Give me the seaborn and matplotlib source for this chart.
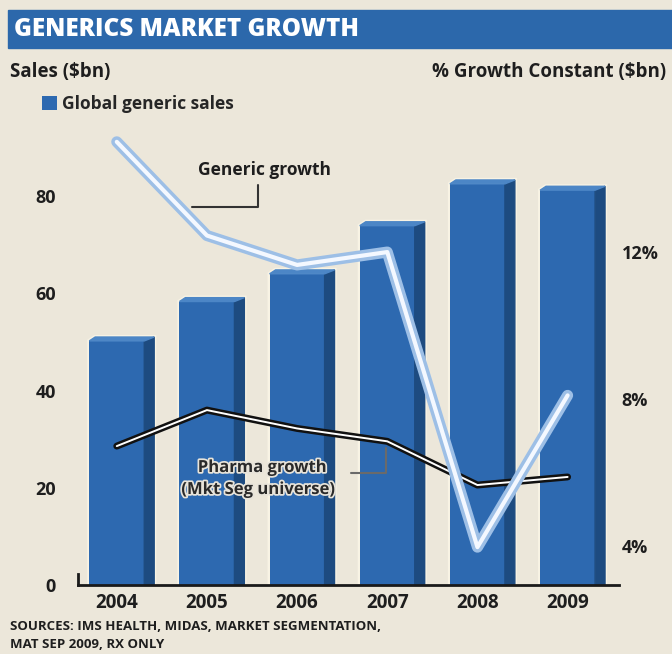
import numpy as np
import pandas as pd
import matplotlib
matplotlib.use("Agg")
import matplotlib.pyplot as plt
import matplotlib.patheffects as pe
from matplotlib.patches import Polygon, Patch, Rectangle
import seaborn as sns

years = ["2004", "2005", "2006", "2007", "2008", "2009"]
sales = [50.2, 58.3, 64.0, 73.9, 82.5, 81.2]
generic_growth = [15.0, 12.45, 11.65, 12.0, 3.97, 8.1]
pharma_growth = [6.72, 7.7, 7.2, 6.85, 5.66, 5.88]
left_ticks = [0, 20, 40, 60, 80]
right_ticks = [4, 8, 12]
right_labels = ["4%", "8%", "12%"]

BG = "#ece7da"
BLUE = "#2d69b0"
SIDE = "#1d4b80"
TOP = "#4c86c6"
BANNER = "#2c68ab"
TXT = "#1e1e1e"
FONT = "Open Sans"

sns.set_theme(style="white")
plt.rcParams["font.family"] = [FONT, "DejaVu Sans"]

W, H = 672, 654
fig = plt.figure(figsize=(W / 100, H / 100), dpi=100, facecolor=BG)

def fx(px):
    return px / W

def fy(py):
    return 1 - py / H

# banner
fig.patches.append(Rectangle((fx(8), fy(48)), 1 - fx(8), (48 - 10) / H,
                             transform=fig.transFigure, color=BANNER, zorder=0))
fig.text(fx(14), fy(30), "GENERICS MARKET GROWTH", color="white",
         fontsize=17.5, fontweight="heavy", va="center", ha="left")
fig.text(fx(10), fy(72), "Sales ($bn)", color=TXT, fontsize=13.5,
         fontweight="bold", va="center", ha="left")
fig.text(fx(666), fy(72), "% Growth Constant ($bn)", color=TXT, fontsize=13.5,
         fontweight="bold", va="center", ha="right")

left, right, top, bottom = 78, 619, 115, 585
ax = fig.add_axes([fx(left), fy(bottom), (right - left) / W, (bottom - top) / H])
ax.set_facecolor(BG)

df = pd.DataFrame({"year": years, "sales": sales})
sns.barplot(data=df, x="year", y="sales", ax=ax, color=BLUE, width=0.61,
            saturation=1, edgecolor="none", zorder=2)
ax.set_xlim(-0.43, 5.57)
ax.set_ylim(0, 96.66)

# 3D side and top faces derived from bar geometry
d = 0.11
e = 0.8
for p in list(ax.patches):
    x0 = p.get_x()
    w = p.get_width()
    h = p.get_height()
    x1 = x0 + w
    ax.add_patch(Polygon([(x1, 0), (x1 + d, 0), (x1 + d, h + e), (x1, h)],
                         closed=True, color=SIDE, zorder=2))
    ax.add_patch(Polygon([(x0, h), (x1, h), (x1 + d, h + e), (x0 + d * 0.6, h + e)],
                         closed=True, color=TOP, zorder=2))
    # cream glow around bars
    ax.add_patch(Polygon([(x0, 0), (x0, h), (x0 + d * 0.6, h + e), (x1 + d, h + e), (x1 + d, 0)],
                         closed=True, fill=False, edgecolor="#f8f3e4", lw=3, zorder=1.9))

ax.set_yticks(left_ticks)
ax.set_yticklabels([str(t) for t in left_ticks])
ax.tick_params(axis="y", length=0, pad=16, labelsize=13, labelcolor=TXT)
for t in ax.get_yticklabels():
    t.set_fontweight("bold")
ax.tick_params(axis="x", length=0, pad=6, labelsize=13.5, labelcolor=TXT)
for t in ax.get_xticklabels():
    t.set_fontweight("bold")
ax.set_xlabel("")
ax.set_ylabel("")
for s in ["top", "right"]:
    ax.spines[s].set_visible(False)
ax.spines["bottom"].set_color("#1a1a1a")
ax.spines["bottom"].set_linewidth(2)
ax.spines["left"].set_color("#1a1a1a")
ax.spines["left"].set_linewidth(2)
ax.spines["left"].set_bounds(0, 2.2)

# right axis with growth lines
ax2 = ax.twinx()
ax2.set_ylim(2.94, 15.73)
ax2.set_xlim(-0.43, 5.57)
xs = np.arange(len(years))
gdf = pd.DataFrame({"x": xs, "generic": generic_growth, "pharma": pharma_growth})
sns.lineplot(data=gdf, x="x", y="pharma", ax=ax2, color="#111111", lw=5,
             zorder=3, solid_capstyle="round", solid_joinstyle="round")
sns.lineplot(data=gdf, x="x", y="pharma", ax=ax2, color="white", lw=1.4,
             zorder=3.1, solid_capstyle="round", solid_joinstyle="round")
sns.lineplot(data=gdf, x="x", y="generic", ax=ax2, color="#9dbfe6", lw=8,
             zorder=4, solid_capstyle="round", solid_joinstyle="round")
sns.lineplot(data=gdf, x="x", y="generic", ax=ax2, color="#f4f8ff", lw=3,
             zorder=4.1, solid_capstyle="round", solid_joinstyle="round")
ax2.set_yticks(right_ticks)
ax2.set_yticklabels(right_labels)
ax2.tick_params(axis="y", length=0, pad=2, labelsize=13, labelcolor=TXT)
for t in ax2.get_yticklabels():
    t.set_fontweight("bold")
ax2.set_xlabel("")
ax2.set_ylabel("")
for s in ax2.spines.values():
    s.set_visible(False)

# annotations (figure pixel coordinates for callouts)
fig.text(fx(265), fy(170), "Generic growth", color=TXT, fontsize=12.5,
         fontweight="bold", ha="center", va="center")
fig.lines.append(plt.Line2D([fx(192), fx(258), fx(258)], [fy(207), fy(207), fy(185)],
                            transform=fig.transFigure, color="#333333", lw=1.5))
halo = [pe.withStroke(linewidth=2.5, foreground="#e8e4da")]
fig.text(fx(262), fy(467), "Pharma growth", color="#2a2a2a", fontsize=12,
         fontweight="bold", ha="center", va="center", path_effects=halo, zorder=10)
fig.text(fx(258), fy(489), "(Mkt Seg universe)", color="#2a2a2a", fontsize=12,
         fontweight="bold", ha="center", va="center", path_effects=halo, zorder=10)
fig.lines.append(plt.Line2D([fx(351), fx(386), fx(386)], [fy(473), fy(473), fy(448)],
                            transform=fig.transFigure, color="#6a6a6a", lw=1.5, zorder=10))

# legend
ax.legend(handles=[Patch(facecolor=BLUE, edgecolor="none")],
          labels=["Global generic sales"], loc="center left",
          bbox_to_anchor=(fx(26), fy(104)), bbox_transform=fig.transFigure,
          frameon=False, handlelength=0.9, handleheight=0.9, handletextpad=0.3,
          prop={"weight": "bold", "size": 12.5, "family": FONT})

# sources
fig.text(fx(10), fy(627), "SOURCES: IMS HEALTH, MIDAS, MARKET SEGMENTATION,", color=TXT,
         fontsize=9.5, fontweight="bold", ha="left", va="center")
fig.text(fx(10), fy(645), "MAT SEP 2009, RX ONLY", color=TXT,
         fontsize=9.5, fontweight="bold", ha="left", va="center")

fig.savefig("out.png", dpi=100, facecolor=BG)
